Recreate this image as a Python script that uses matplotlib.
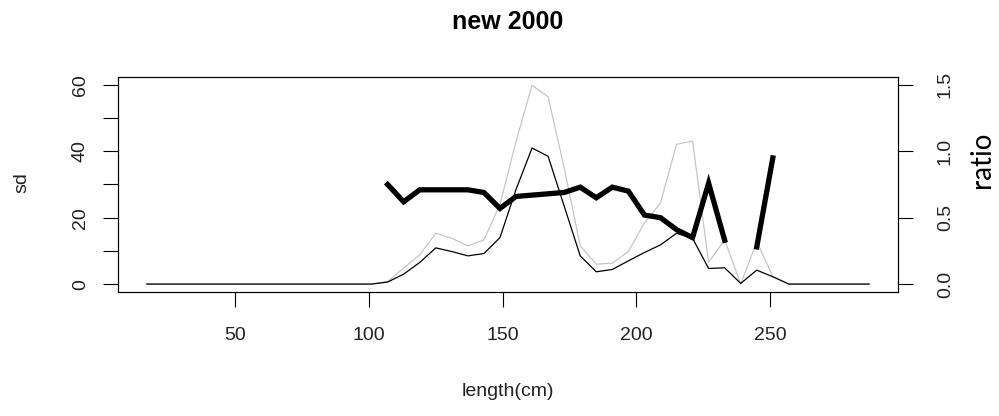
import numpy as np
import matplotlib.pyplot as plt

# length classes (cm)
length = [17, 23, 29, 35, 41, 47, 53, 59, 65, 71, 77, 83, 89, 95, 101,
          107, 113, 119, 125, 131, 137, 143, 149, 155, 161, 167, 173, 179, 185, 191,
          197, 203, 209, 215, 221, 227, 233, 239, 245, 251, 257, 263, 269, 275, 281, 287]

# black thin line (sd, new)
sd_new = [0, 0, 0, 0, 0, 0, 0, 0, 0, 0, 0, 0, 0, 0, 0,
          0.6, 3.0, 6.5, 10.9, 9.8, 8.5, 9.2, 14.0, 28.5, 41.0, 38.5, 23.5, 8.5, 3.7, 4.4,
          7.0, 9.5, 11.8, 15.3, 13.8, 4.7, 4.9, 0.2, 4.2, 2.2, 0, 0, 0, 0, 0, 0]

# grey thin line (sd, reference)
sd_ref = [0, 0, 0, 0, 0, 0, 0, 0, 0, 0, 0, 0, 0, 0, 0,
          0.8, 4.8, 8.8, 15.3, 13.8, 11.5, 13.3, 24.0, 43.0, 59.9, 56.4, 35.0, 11.5, 6.0, 6.3,
          9.8, 18.4, 24.4, 42.1, 43.1, 6.5, 13.3, 0.0, 12.8, 2.3, 0, 0, 0, 0, 0, 0]

# thick line (ratio, right axis)
nan = np.nan
ratio = [nan, nan, nan, nan, nan, nan, nan, nan, nan, nan, nan, nan, nan, nan, nan,
         0.75, 0.62, 0.71, 0.71, 0.71, 0.71, 0.69, 0.57, 0.66, 0.67, 0.68, 0.69, 0.73, 0.65, 0.73,
         0.70, 0.52, 0.50, 0.41, 0.35, 0.76, 0.33, nan, 0.28, 0.95, nan, nan, nan, nan, nan, nan]

tick_font = ['Liberation Sans Narrow', 'Liberation Sans', 'DejaVu Sans']

fig = plt.figure(figsize=(9.99, 4.16), dpi=100)
ax = fig.add_axes([0.1181, 0.298, 0.7808, 0.517])

ax.plot(length, sd_ref, color='#c6c6c6', lw=0.9)
ax.plot(length, sd_new, color='black', lw=0.9)
ax.set_xlim(6.2, 297.8)
ax.set_ylim(-2.4, 62.4)

ax.set_xticks([50, 100, 150, 200, 250])
ax.set_xticklabels(['50', '100', '150', '200', '250'], family=tick_font, fontsize=14,
                   color='#222222')
ax.set_yticks([0, 10, 20, 30, 40, 50, 60])
ax.set_yticklabels(['0', '', '20', '', '40', '', '60'], family=tick_font, fontsize=14,
                   rotation=90, va='center', color='#222222')
ax.tick_params(axis='x', direction='out', length=11, width=0.8, pad=14)
ax.tick_params(axis='y', direction='out', length=11, width=0.8, pad=10)
for s in ax.spines.values():
    s.set_linewidth(0.8)

ax2 = ax.twinx()
ax2.plot(length, ratio, color='black', lw=3.8, solid_joinstyle='miter')
ax2.set_ylim(-0.06, 1.56)
ax2.set_yticks([0.0, 0.5, 1.0, 1.5])
ax2.set_yticklabels(['0.0', '0.5', '1.0', '1.5'], family=tick_font, fontsize=14,
                    rotation=90, va='center', color='#222222')
ax2.tick_params(axis='y', direction='out', length=11, width=0.8, pad=17)
for s in ax2.spines.values():
    s.set_linewidth(0.8)

cx = (118 + 898) / 2 / 999
fig.text(cx, 1 - 22 / 416, 'new 2000', ha='center', va='center',
         fontweight='bold', fontsize=18, family=['Liberation Sans', 'DejaVu Sans'])
fig.text(cx, 1 - 392 / 416, 'length(cm)', ha='center', va='center',
         fontsize=14, family=tick_font, color='#222222')
fig.text(22 / 999, 1 - 183 / 416, 'sd', ha='center', va='center', rotation=90,
         fontsize=14, family=tick_font, color='#222222')
fig.text(982 / 999, 1 - 160 / 416, 'ratio', ha='center', va='center', rotation=90,
         fontsize=20, family=['Lato', 'DejaVu Sans'])

fig.savefig('out.png', dpi=100)
